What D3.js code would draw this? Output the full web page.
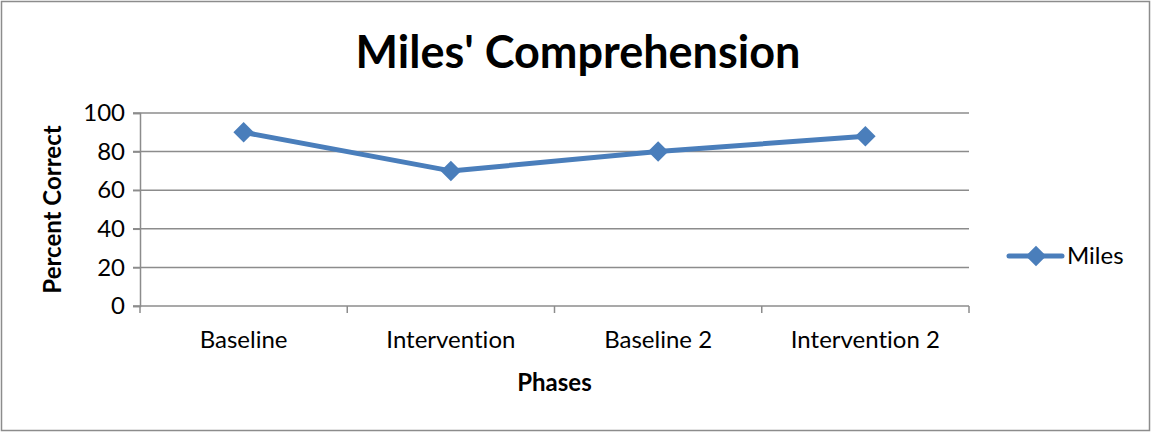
<!DOCTYPE html>
<head>
    <title>Miles' Comprehension</title>
    <meta charset="utf-8">
    <style>
        body { margin: 0; background: #fff; }
        text { font-family: Lato, "Open Sans", sans-serif; fill: #000; font-variant-ligatures: none; }
    </style>
</head>
<body>
<div id="chart"></div>

<script src="https://d3js.org/d3.v7.min.js"></script>
<script>

var phases = ["Baseline", "Intervention", "Baseline 2", "Intervention 2"];
var miles = [90, 70, 80, 88];
var yTicks = [0, 20, 40, 60, 80, 100];

var width = 1152, height = 433;
var margin = {top: 113, right: 183, bottom: 127, left: 140};

var svg = d3.select("#chart").append("svg")
    .attr("width", width)
    .attr("height", height);

// chart border
svg.append("rect")
    .attr("x", 1.5).attr("y", 1.5)
    .attr("width", width - 4).attr("height", height - 4)
    .attr("fill", "#fff")
    .attr("stroke", "#8c8c8c")
    .attr("stroke-width", 1.5);

var x = d3.scaleBand()
    .domain(phases)
    .range([margin.left, width - margin.right]);

var y = d3.scaleLinear()
    .domain([0, 100])
    .range([height - margin.bottom, margin.top]);

// gridlines
svg.append("g")
    .selectAll("line")
    .data(yTicks)
    .enter().append("line")
    .attr("x1", margin.left - 7)
    .attr("x2", width - margin.right)
    .attr("y1", function(d) { return y(d); })
    .attr("y2", function(d) { return y(d); })
    .attr("stroke", "#8c8c8c")
    .attr("stroke-width", 1.5);

// y axis
var yAxis = svg.append("g")
    .attr("transform", "translate(" + margin.left + ",0)")
    .call(d3.axisLeft(y).tickValues(yTicks).tickSize(7).tickPadding(8));
yAxis.select(".domain").attr("stroke", "#8c8c8c").attr("stroke-width", 1.5);
yAxis.selectAll(".tick line").attr("stroke", "#8c8c8c").attr("stroke-width", 1.5);
yAxis.selectAll(".tick text")
    .attr("font-family", "Lato, sans-serif")
    .attr("font-size", 24)
    .attr("fill", "#000");

// x axis
var xAxis = svg.append("g")
    .attr("transform", "translate(0," + y(0) + ")")
    .call(d3.axisBottom(x).tickSize(0).tickPadding(25));
xAxis.select(".domain").remove();
xAxis.selectAll(".tick line").remove();
xAxis.selectAll(".tick text")
    .attr("font-family", "Lato, sans-serif")
    .attr("font-size", 24)
    .attr("fill", "#000");

// category tick marks between bands
var bounds = phases.map(function(d) { return x(d); }).concat([x(phases[phases.length - 1]) + x.bandwidth()]);
svg.append("g")
    .selectAll("line")
    .data(bounds)
    .enter().append("line")
    .attr("x1", function(d) { return d; })
    .attr("x2", function(d) { return d; })
    .attr("y1", y(0))
    .attr("y2", y(0) + 7)
    .attr("stroke", "#8c8c8c")
    .attr("stroke-width", 1.5);

// data line
var pts = phases.map(function(p, i) { return {phase: p, value: miles[i]}; });
var line = d3.line()
    .x(function(d) { return x(d.phase) + x.bandwidth() / 2; })
    .y(function(d) { return y(d.value); });

svg.append("path")
    .datum(pts)
    .attr("d", line)
    .attr("fill", "none")
    .attr("stroke", "#4a7ebb")
    .attr("stroke-width", 5)
    .attr("stroke-linejoin", "round");

// diamond marker = rotated square
var diamond = d3.symbol().type(d3.symbolSquare).size(210);
svg.append("g")
    .selectAll("path")
    .data(pts)
    .enter().append("path")
    .attr("d", diamond)
    .attr("transform", function(d) {
        return "translate(" + (x(d.phase) + x.bandwidth() / 2) + "," + y(d.value) + ") rotate(45)";
    })
    .attr("fill", "#4a7ebb");

// legend
var legend = svg.append("g").attr("transform", "translate(1009,256)");
legend.append("line")
    .attr("x1", 0).attr("x2", 53)
    .attr("stroke", "#4a7ebb")
    .attr("stroke-width", 5)
    .attr("stroke-linecap", "round");
legend.append("path")
    .attr("d", diamond)
    .attr("transform", "translate(27,0) rotate(45)")
    .attr("fill", "#4a7ebb");
legend.append("text")
    .attr("x", 58).attr("y", 8)
    .attr("font-size", 24)
    .text("Miles");

// title and axis titles
svg.append("text")
    .attr("x", 578).attr("y", 68)
    .attr("text-anchor", "middle")
    .attr("font-size", 45)
    .attr("font-weight", "bold")
    .text("Miles' Comprehension");

svg.append("text")
    .attr("transform", "translate(61," + ((y(0) + y(100)) / 2) + ") rotate(-90)")
    .attr("text-anchor", "middle")
    .attr("font-size", 24)
    .attr("font-weight", "bold")
    .text("Percent Correct");

svg.append("text")
    .attr("x", (x.range()[0] + x.range()[1]) / 2)
    .attr("y", 391)
    .attr("text-anchor", "middle")
    .attr("font-size", 24)
    .attr("font-weight", "bold")
    .text("Phases");

</script>
</body>
</html>
